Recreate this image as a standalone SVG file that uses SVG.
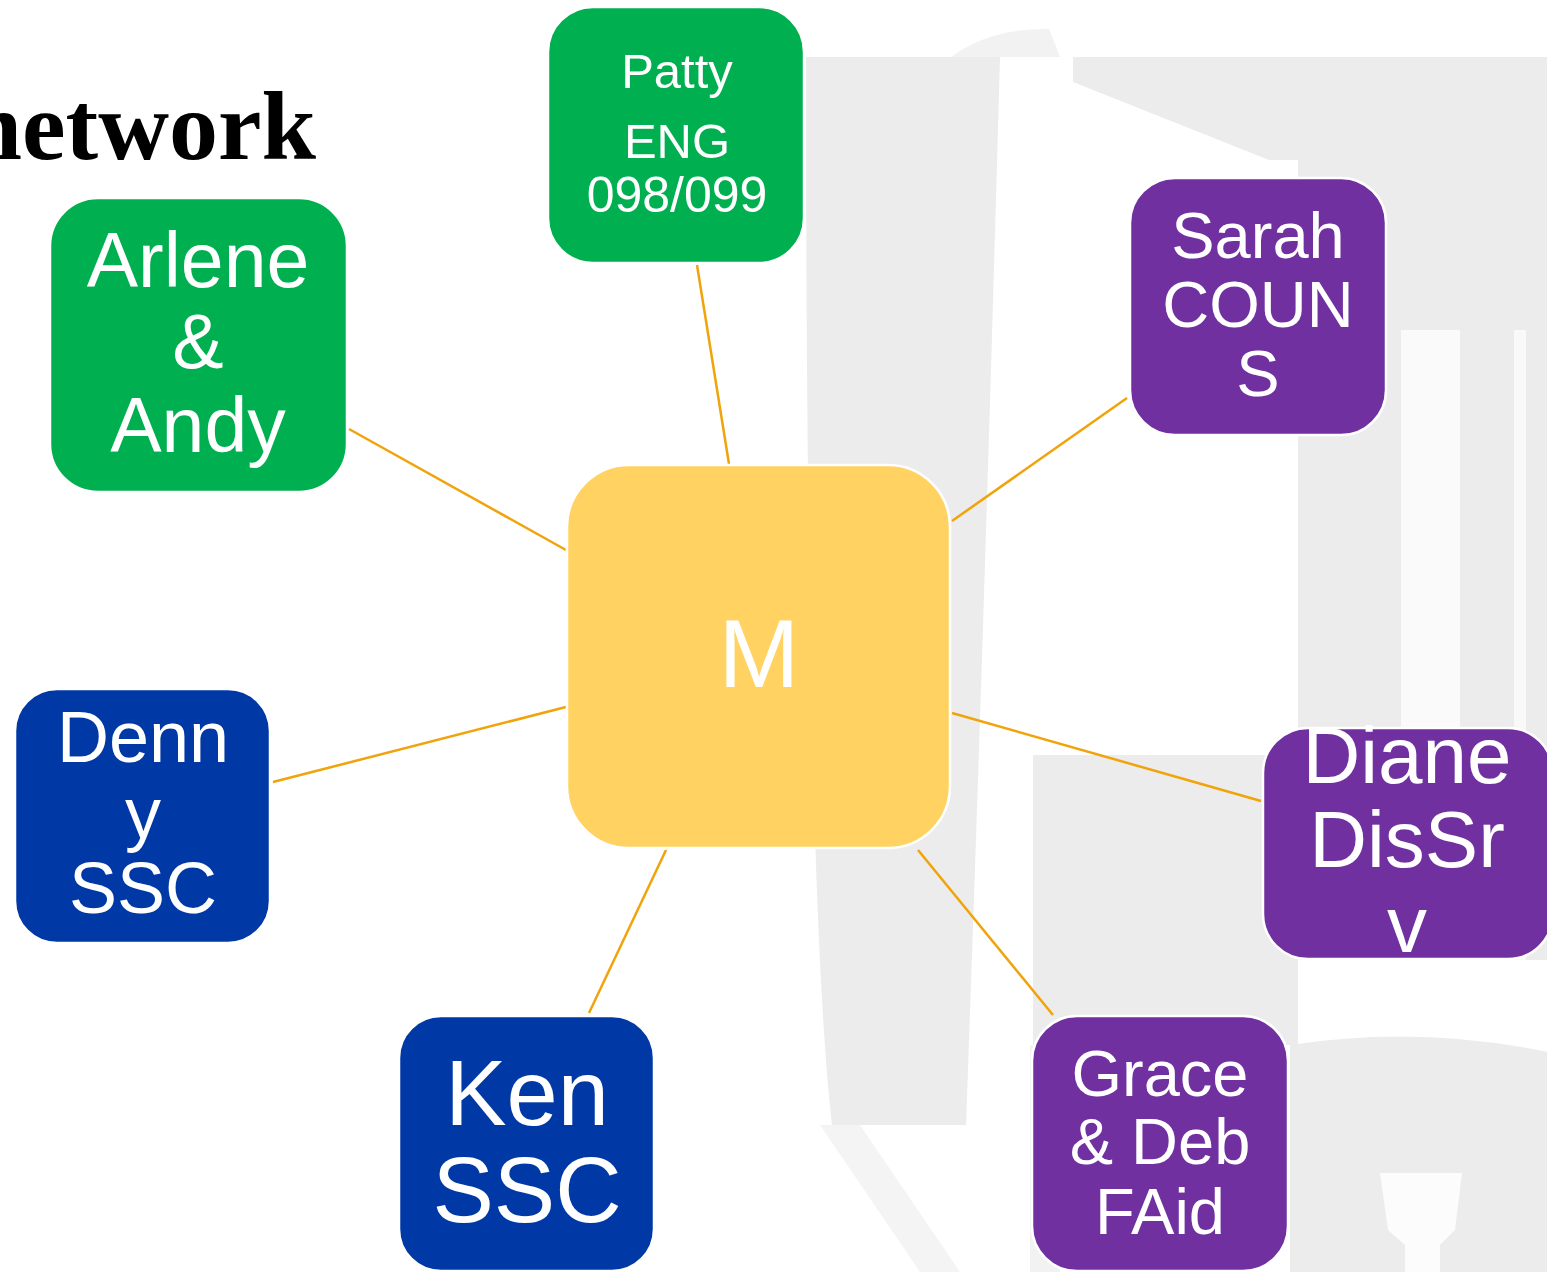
<svg xmlns="http://www.w3.org/2000/svg" width="1547" height="1272" viewBox="0 0 1547 1272">
<style>
.bg{fill:#ececec}
.wh{fill:#ffffff}
.node{stroke:#ffffff;stroke-width:2.5}
.green{fill:#00b050}
.purple{fill:#7030a0}
.blue{fill:#0039a6}
.yellow{fill:#ffd262}
.t{font-family:"Liberation Sans",Arial,sans-serif;fill:#ffffff;text-anchor:middle}
.edge{stroke:#f0a30a;stroke-width:2.5;fill:none}
</style>
<rect width="1547" height="1272" fill="#ffffff"/>
<g id="background">
  <path class="bg" d="M806,57 L1000,57 Q985,600 966,1125 L832,1125 Q806,900 806,57 Z"/>
  <path class="bg" d="M951,57 Q990,28 1049,29 L1060,57 Z" opacity="0.7"/>
  <path class="bg" d="M1073,57 L1547,57 L1547,960 L1298,960 L1298,160 L1269,160 L1073,82 Z"/>
  <path class="wh" d="M1401,330 L1460,330 L1460,960 L1401,960 Z" opacity="0.75"/>
  <path class="wh" d="M1514,330 L1526,330 L1526,960 L1514,960 Z" opacity="0.7"/>
  <rect class="bg" x="1033" y="755" width="265" height="290"/>
  <rect class="bg" x="1030" y="1045" width="30" height="227" opacity="0.7"/>
  <path class="bg" d="M820,1125 L860,1125 L960,1272 L920,1272 Z" opacity="0.6"/>
  <path class="bg" d="M1290,1045 Q1420,1025 1547,1052 L1547,1272 L1290,1272 Z"/>
  <path class="wh" d="M1380,1173 L1462,1173 L1455,1230 L1440,1245 L1440,1272 L1405,1272 L1405,1245 L1388,1230 Z" opacity="0.85"/>
</g>
<text x="316" y="159" font-family="'Liberation Serif','Times New Roman',serif" font-weight="bold" font-size="98" fill="#000000" text-anchor="end">network</text>
<g id="connectors">
  <line class="edge" x1="697" y1="265" x2="729" y2="464"/>
  <line class="edge" x1="349" y1="429" x2="566" y2="550"/>
  <line class="edge" x1="1127" y1="398" x2="952" y2="521"/>
  <line class="edge" x1="273" y1="782" x2="566" y2="707"/>
  <line class="edge" x1="952" y1="713" x2="1261" y2="801"/>
  <line class="edge" x1="589" y1="1013" x2="666" y2="850"/>
  <line class="edge" x1="918" y1="850" x2="1053" y2="1015"/>
</g>
<g id="node-M">
  <rect class="node yellow" x="567" y="465" width="383" height="383" rx="62"/>
  <text class="t" x="759" y="687" font-size="97">M</text>
</g>
<g id="node-patty">
  <rect class="node green" x="548" y="7" width="256" height="256" rx="45"/>
  <text class="t" x="677" y="88" font-size="49">Patty</text>
  <text class="t" x="677" y="158" font-size="49">ENG</text>
  <text class="t" x="677" y="212" font-size="50">098/099</text>
</g>
<g id="node-arlene">
  <rect class="node green" x="50" y="198" width="297" height="294" rx="48"/>
  <text class="t" x="198" y="287" font-size="77">Arlene</text>
  <text class="t" x="198" y="368" font-size="77">&amp;</text>
  <text class="t" x="198" y="452" font-size="77">Andy</text>
</g>
<g id="node-sarah">
  <rect class="node purple" x="1130" y="178" width="256" height="257" rx="45"/>
  <text class="t" x="1258" y="258" font-size="65">Sarah</text>
  <text class="t" x="1258" y="327" font-size="65">COUN</text>
  <text class="t" x="1258" y="396" font-size="65">S</text>
</g>
<g id="node-denny">
  <rect class="node blue" x="15" y="689" width="255" height="254" rx="42"/>
  <text class="t" x="143" y="762" font-size="72">Denn</text>
  <text class="t" x="143" y="838" font-size="72">y</text>
  <text class="t" x="143" y="913" font-size="72">SSC</text>
</g>
<g id="node-diane">
  <rect class="node purple" x="1263" y="728" width="290" height="231" rx="45"/>
  <text class="t" x="1407" y="783" font-size="80">Diane</text>
  <text class="t" x="1407" y="867" font-size="80">DisSr</text>
  <text class="t" x="1407" y="952" font-size="80">v</text>
</g>
<g id="node-ken">
  <rect class="node blue" x="399" y="1016" width="255" height="255" rx="42"/>
  <text class="t" x="527" y="1125" font-size="92">Ken</text>
  <text class="t" x="527" y="1222" font-size="92">SSC</text>
</g>
<g id="node-grace">
  <rect class="node purple" x="1032" y="1016" width="256" height="255" rx="45"/>
  <text class="t" x="1160" y="1096" font-size="65">Grace</text>
  <text class="t" x="1160" y="1164" font-size="65">&amp; Deb</text>
  <text class="t" x="1160" y="1234" font-size="65">FAid</text>
</g>
</svg>
